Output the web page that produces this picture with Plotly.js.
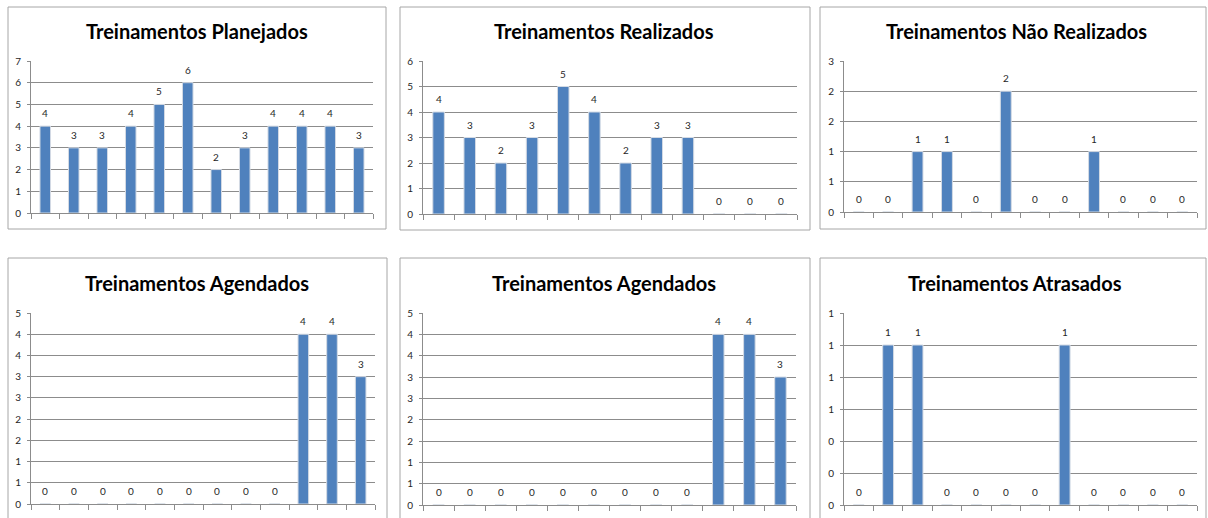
<!DOCTYPE html>
<html>
<head>
<meta charset="utf-8">
<script src="https://cdn.plot.ly/plotly-3.0.1.min.js"></script>
<style>
html,body{margin:0;padding:0;background:#fff;}
#chart{width:1208px;height:518px;}
</style>
</head>
<body>
<div id="chart"></div>
<script>
// ---- data ----
const categories = ["M1","M2","M3","M4","M5","M6","M7","M8","M9","M10","M11","M12"];

const titles = [
  "Treinamentos Planejados",
  "Treinamentos Realizados",
  "Treinamentos Não Realizados",
  "Treinamentos Agendados",
  "Treinamentos Agendados",
  "Treinamentos Atrasados"
];

const planejados    = [4,3,3,4,5,6,2,3,4,4,4,3];
const realizados    = [4,3,2,3,5,4,2,3,3,0,0,0];
const naoRealizados = [0,0,1,1,0,2,0,0,1,0,0,0];
const agendados1    = [0,0,0,0,0,0,0,0,0,4,4,3];
const agendados2    = [0,0,0,0,0,0,0,0,0,4,4,3];
const atrasados     = [0,1,1,0,0,0,0,1,0,0,0,0];

const tickVals1 = [0,1,2,3,4,5,6,7];
const tickText1 = ["0","1","2","3","4","5","6","7"];
const tickVals2 = [0,1,2,3,4,5,6];
const tickText2 = ["0","1","2","3","4","5","6"];
const tickVals3 = [0,0.5,1,1.5,2,2.5];
const tickText3 = ["0","1","1","2","2","3"];
const tickVals4 = [0,0.5,1,1.5,2,2.5,3,3.5,4,4.5];
const tickText4 = ["0","1","1","2","2","3","3","4","4","5"];
const tickVals6 = [0,0.2,0.4,0.6,0.8,1.0,1.2];
const tickText6 = ["0","0","0","1","1","1","1"];

// ---- layout geometry (pixels in 1208x518 page) ----
const W = 1208, H = 518;
const panels = [
  {values: planejados,    tv: tickVals1, tt: tickText1, ymax: 7,   px:[31,373],  py:[61,213],  border:[8,7,386,229],     title:[197,31]},
  {values: realizados,    tv: tickVals2, tt: tickText2, ymax: 6,   px:[423,797], py:[61,214],  border:[400,7,810,230],   title:[604,31]},
  {values: naoRealizados, tv: tickVals3, tt: tickText3, ymax: 2.5, px:[844,1197],py:[61,212],  border:[820,7,1206,229],  title:[1016,31]},
  {values: agendados1,    tv: tickVals4, tt: tickText4, ymax: 4.5, px:[31,375],  py:[313,504], border:[8,258,387,530],   title:[197,283]},
  {values: agendados2,    tv: tickVals4, tt: tickText4, ymax: 4.5, px:[423,796], py:[313,505], border:[400,258,810,530], title:[604,283]},
  {values: atrasados,     tv: tickVals6, tt: tickText6, ymax: 1.2, px:[844,1197],py:[313,505], border:[820,258,1206,530],title:[1015,283]}
];

const fx = p => p / W;
const fy = p => 1 - p / H;

const FONT = "Lato, 'Open Sans', sans-serif";
const GRID = "#8c8c8c";
const BAR = "#4F81BD";

const traces = [];
const layout = {
  width: W, height: H,
  margin: {l:0, r:0, t:0, b:0},
  paper_bgcolor: "#fff",
  plot_bgcolor: "#fff",
  showlegend: false,
  font: {family: FONT, size: 10, color: "#262626"},
  shapes: [],
  annotations: []
};

panels.forEach((p, i) => {
  const n = i + 1;
  const xa = n === 1 ? "x" : "x" + n;
  const ya = n === 1 ? "y" : "y" + n;
  traces.push({
    type: "bar",
    x: categories,
    y: p.values,
    xaxis: xa, yaxis: ya,
    width: 0.37,
    marker: {color: BAR, line: {color: "#d3dae4", width: 1}},
    hoverinfo: "x+y"
  });
  layout["xaxis" + (n === 1 ? "" : n)] = {
    domain: [fx(p.px[0]), fx(p.px[1])],
    anchor: ya,
    type: "category",
    showticklabels: false,
    showgrid: false,
    showline: true, linecolor: GRID, linewidth: 1,
    ticks: "outside", tickson: "boundaries", ticklen: 5, tickcolor: GRID, tickwidth: 1,
    fixedrange: true
  };
  layout["yaxis" + (n === 1 ? "" : n)] = {
    domain: [fy(p.py[1]), fy(p.py[0])],
    anchor: xa,
    range: [0, p.ymax],
    tickmode: "array", tickvals: p.tv, ticktext: p.tt,
    showgrid: true, gridcolor: GRID, gridwidth: 1,
    showline: true, linecolor: GRID, linewidth: 1,
    zeroline: false,
    ticks: "outside", ticklen: 3, tickcolor: GRID, tickwidth: 1,
    ticklabelstandoff: 4,
    tickfont: {family: FONT, size: 10, color: "#262626"},
    fixedrange: true
  };
  // chart border
  const b = p.border;
  layout.shapes.push({
    type: "rect", xref: "paper", yref: "paper",
    x0: fx(b[0]), x1: fx(b[2]), y0: fy(b[3]), y1: fy(b[1]),
    line: {color: "#a6a6a6", width: 1}, fillcolor: "rgba(0,0,0,0)", layer: "below"
  });
  // title
  layout.annotations.push({
    xref: "paper", yref: "paper",
    x: fx(p.title[0]), y: fy(p.title[1]),
    xanchor: "center", yanchor: "middle",
    text: "<b>" + titles[i] + "</b>",
    showarrow: false,
    font: {family: FONT, size: 20, color: "#000"}
  });
  // data labels (x given as category index)
  p.values.forEach((v, k) => {
    layout.annotations.push({
      xref: xa, yref: ya,
      x: k, y: v,
      text: String(v),
      showarrow: false,
      yanchor: "middle", yshift: 13,
      font: {family: FONT, size: 10, color: "#262626"}
    });
  });
});

Plotly.newPlot("chart", traces, layout, {displayModeBar: false, staticPlot: true});
</script>
</body>
</html>
